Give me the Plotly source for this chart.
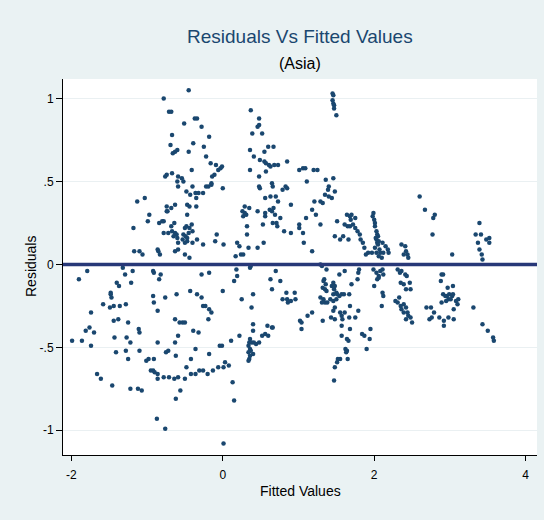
import plotly.graph_objects as go

# (fitted value, residual) pairs, grouped by region
upper_left = [(-0.78,1.00),(-0.71,0.92),(-0.68,0.92),(-0.67,0.78),(-0.69,0.72),(-0.66,0.67),(-0.63,0.68),(-0.60,0.69),
 (-0.76,0.53),(-0.74,0.54),(-0.67,0.55),(-0.59,0.53),(-0.60,0.50),(-0.59,0.47),(-1.13,0.38),(-1.03,0.40),(-0.74,0.35),
 (-0.68,0.34),(-0.63,0.36),(-0.74,0.32),(-0.73,0.32),(-0.97,0.30),(-0.99,0.26),(-1.18,0.22),(-0.84,0.25),(-0.80,0.26),
 (-0.78,0.26),(-0.68,0.23),(-0.64,0.25),(-0.78,0.19),(-0.72,0.19),(-0.67,0.20),(-0.63,0.19),(-0.61,0.18),(-0.65,0.17),
 (-0.59,0.13),(-0.60,0.16),(-1.17,0.08),(-1.10,0.08),(-1.06,0.06),(-0.86,0.09),(-0.85,0.08),(-0.83,0.06),(-0.63,0.08),(-0.59,0.09)]

upper_mid = [(-0.45,1.05),(0.37,0.93),(-0.51,0.85),(-0.37,0.88),(-0.34,0.88),(-0.28,0.83),(0.48,0.88),(0.46,0.83),(0.48,0.84),
 (0.39,0.79),(0.52,0.79),(-0.18,0.77),(-0.39,0.73),(-0.25,0.71),(-0.45,0.68),(0.36,0.69),(0.55,0.68),(0.60,0.71),(0.67,0.71),
 (-0.22,0.65),(0.41,0.65),(0.49,0.63),(-0.16,0.61),(-0.09,0.60),(-0.06,0.57),(-0.03,0.58),(-0.01,0.59),(-0.11,0.54),(-0.14,0.53),
 (0.55,0.62),(0.57,0.61),(0.61,0.60),(0.63,0.59),(0.68,0.60),(0.73,0.60),(0.85,0.62),(-0.41,0.57),(0.36,0.57),(0.57,0.56),
 (0.48,0.53),(-0.54,0.52),(-0.52,0.50),(-0.48,0.44),(-0.40,0.47),(-0.43,0.42),(-0.36,0.43),(-0.35,0.40),(-0.32,0.43),
 (-0.26,0.43),(-0.22,0.47),(-0.19,0.47),(-0.15,0.48),(-0.15,0.49),(0.00,0.46),(0.48,0.47),(0.49,0.46),(0.65,0.49),(0.66,0.47),
 (0.79,0.45),(0.83,0.47),(0.85,0.46),(1.01,0.57),(0.56,0.40),(0.63,0.41),(0.70,0.41),(0.73,0.38),(0.90,0.36),(-0.47,0.36),
 (-0.44,0.35),(-0.35,0.35),(-0.47,0.30),(0.29,0.35),(0.35,0.34),(0.26,0.32),(0.29,0.31),(0.27,0.29),(0.31,0.30),(0.46,0.32),
 (0.56,0.31),(0.62,0.33),(0.65,0.32),(0.67,0.34),(0.69,0.30),(0.76,0.28),(0.56,0.29),(0.53,0.24),(0.66,0.25),(0.71,0.25),
 (0.72,0.23),(0.81,0.20),(0.90,0.19),(1.01,0.24),(1.01,0.22),(-0.48,0.23),(-0.50,0.22),(-0.44,0.22),(-0.41,0.24),(-0.40,0.20),
 (-0.45,0.19),(-0.52,0.18),(-0.49,0.17),(-0.47,0.16),(-0.53,0.15),(-0.47,0.14),(-0.50,0.13),(-0.40,0.13),(-0.34,0.15),
 (-0.26,0.12),(-0.08,0.18),(-0.10,0.14),(0.01,0.12),(0.32,0.23),(0.32,0.18),(0.19,0.13),(0.22,0.11),(0.34,0.10),(0.46,0.10),
 (0.54,0.13),(0.17,0.05),(0.24,0.06),(0.27,0.06),(-0.50,0.06),(-0.44,0.04)]

upper_right = [(1.45,1.03),(1.46,1.02),(1.45,0.99),(1.46,0.97),(1.47,0.96),(1.47,0.94),(1.50,0.90),(1.06,0.58),(1.09,0.58),
 (1.20,0.57),(1.25,0.57),(1.11,0.50),(1.36,0.51),(1.46,0.52),(1.40,0.47),(1.39,0.45),(1.48,0.44),(1.35,0.42),(1.40,0.41),
 (1.44,0.40),(2.60,0.41),(1.21,0.38),(1.29,0.38),(1.32,0.37),(1.18,0.33),(1.23,0.30),(1.10,0.28),(1.29,0.24),(1.06,0.19),
 (1.07,0.13),(1.18,0.08),(1.51,0.26),(1.48,0.17),(1.55,0.15),(1.59,0.17),(1.66,0.15),(1.64,0.30),(1.68,0.29),(1.70,0.30),
 (1.75,0.28),(1.69,0.27),(1.61,0.24),(1.65,0.23),(1.68,0.23),(1.72,0.24),(1.75,0.22),(1.78,0.20),(1.81,0.18),(1.82,0.15),
 (1.85,0.13),(1.87,0.10),(1.92,0.07),(1.89,0.06),(1.99,0.31),(1.98,0.29),(2.00,0.27),(2.01,0.25),(2.01,0.23),(2.03,0.20),
 (2.04,0.18),(2.05,0.17),(2.03,0.15),(2.06,0.14),(2.04,0.13),(2.07,0.09),(2.08,0.07),(2.03,0.07),(1.97,0.07),(2.02,0.16),
 (2.05,0.12),(2.01,0.10),(2.06,0.05),(2.10,0.04),(2.11,0.13),(2.15,0.11),(2.18,0.09),(2.19,0.07),(2.12,0.07),(2.36,0.12),
 (2.41,0.11),(2.42,0.08),(2.39,0.06),(2.44,0.06),(2.45,0.04),(2.67,0.33),(2.80,0.30),(2.78,0.28),(2.77,0.18),(3.03,0.06),
 (3.39,0.25),(3.34,0.18),(3.41,0.18),(3.37,0.13),(3.39,0.09),(3.42,0.06),(3.43,0.03),(3.48,0.15),(3.52,0.16),(3.52,0.13)]

lower_left = [(-1.79,-0.04),(-1.90,-0.09),(-1.32,-0.02),(-1.29,-0.06),(-1.19,-0.04),(-0.92,-0.04),(-0.91,-0.05),(-0.82,-0.06),
 (-0.84,-0.09),(-1.40,-0.11),(-1.37,-0.13),(-1.21,-0.11),(-1.48,-0.17),(-1.48,-0.18),(-1.47,-0.20),(-1.58,-0.24),(-1.49,-0.26),
 (-1.44,-0.25),(-1.36,-0.25),(-1.28,-0.24),(-0.92,-0.19),(-0.91,-0.23),(-0.76,-0.20),(-0.86,-0.28),(-0.61,-0.18),(-1.74,-0.29),
 (-1.44,-0.34),(-1.38,-0.33),(-1.25,-0.35),(-0.63,-0.33),(-0.57,-0.35),(-1.81,-0.40),(-1.76,-0.38),(-1.70,-0.41),(-1.11,-0.39),
 (-1.10,-0.41),(-1.43,-0.44),(-1.27,-0.44),(-1.22,-0.47),(-0.59,-0.43),(-1.99,-0.46),(-1.86,-0.46),(-1.74,-0.49),(-0.86,-0.47),
 (-0.63,-0.47),(-1.41,-0.53),(-1.28,-0.52),(-1.25,-0.57),(-1.10,-0.52),(-0.75,-0.53),(-0.72,-0.52),(-0.62,-0.55),(-1.01,-0.58),
 (-0.98,-0.57),(-0.91,-0.57),(-0.95,-0.64),(-0.92,-0.64),(-0.90,-0.65),(-0.86,-0.66),(-0.86,-0.69),(-0.78,-0.68),(-0.71,-0.68),
 (-0.64,-0.69),(-0.59,-0.68),(-1.66,-0.66),(-1.61,-0.69),(-1.46,-0.73),(-1.22,-0.75),(-1.12,-0.75),(-1.07,-0.76),(-0.62,-0.81),
 (-0.87,-0.93),(-0.76,-0.99)]

lower_mid = [(0.36,-0.02),(0.37,-0.01),(-0.28,-0.06),(-0.18,-0.05),(0.18,-0.03),(0.19,-0.07),(0.15,-0.10),(0.70,-0.04),
 (0.63,-0.09),(0.76,-0.10),(0.65,-0.15),(-0.43,-0.16),(-0.34,-0.18),(-0.28,-0.20),(0.00,-0.16),(0.40,-0.18),(0.25,-0.21),
 (0.38,-0.26),(0.84,-0.17),(0.95,-0.17),(0.79,-0.21),(0.85,-0.21),(0.86,-0.23),(0.90,-0.22),(0.96,-0.21),(-0.26,-0.25),
 (-0.23,-0.25),(-0.18,-0.27),(-0.15,-0.29),(-0.19,-0.33),(-0.53,-0.35),(-0.50,-0.35),(-0.39,-0.40),(-0.32,-0.41),
 (-0.36,-0.51),(0.22,-0.43),(0.11,-0.46),(-0.04,-0.49),(-0.01,-0.49),(-0.18,-0.54),(-0.42,-0.57),(-0.48,-0.62),(-0.42,-0.66),
 (-0.36,-0.66),(-0.31,-0.64),(-0.26,-0.64),(-0.20,-0.66),(-0.13,-0.64),(-0.06,-0.62),(0.01,-0.62),(0.03,-0.59),(0.08,-0.61),
 (-0.50,-0.69),(-0.56,-0.76),(0.13,-0.71),(0.15,-0.82),(0.01,-1.08),(0.40,-0.36),(0.40,-0.40),(0.36,-0.45),(0.35,-0.47),
 (0.38,-0.47),(0.41,-0.47),(0.44,-0.48),(0.48,-0.47),(0.34,-0.49),(0.36,-0.51),(0.37,-0.52),(0.34,-0.53),(0.40,-0.54),
 (0.36,-0.55),(0.35,-0.57),(0.34,-0.58),(0.52,-0.43),(0.56,-0.42),(0.59,-0.37),(0.60,-0.43),(0.65,-0.38),(0.66,-0.38)]

lower_right = [(1.29,0.00),(1.31,-0.01),(1.37,-0.03),(1.54,-0.06),(1.61,-0.04),(1.80,-0.03),(1.79,-0.05),(1.78,-0.09),
 (1.70,-0.12),(1.99,-0.03),(2.03,-0.05),(2.06,-0.07),(2.08,-0.04),(2.11,-0.03),(2.12,-0.06),(2.04,-0.09),(2.06,-0.08),
 (2.00,-0.13),(2.11,-0.17),(2.12,-0.19),(2.10,-0.25),(2.31,-0.03),(2.34,-0.05),(2.36,-0.04),(2.41,-0.06),(2.43,-0.07),
 (2.35,-0.11),(2.39,-0.12),(2.47,-0.11),(2.48,-0.15),(2.42,-0.15),(2.33,-0.20),(2.28,-0.22),(2.31,-0.23),(2.35,-0.25),
 (2.39,-0.24),(2.42,-0.26),(2.36,-0.27),(2.39,-0.29),(2.44,-0.29),(2.42,-0.33),(2.45,-0.31),(2.48,-0.32),(2.50,-0.35),
 (1.34,-0.09),(1.33,-0.10),(1.36,-0.12),(1.32,-0.14),(1.35,-0.15),(1.37,-0.16),(1.46,-0.11),(1.44,-0.13),(1.48,-0.13),
 (1.47,-0.15),(1.50,-0.17),(1.46,-0.18),(1.51,-0.18),(1.29,-0.20),(1.33,-0.21),(1.35,-0.23),(1.31,-0.23),(1.38,-0.23),
 (1.42,-0.21),(1.46,-0.22),(1.50,-0.21),(1.54,-0.19),(1.57,-0.18),(1.60,-0.18),(1.67,-0.18),(1.02,-0.34),(1.04,-0.35),
 (1.04,-0.39),(1.12,-0.31),(1.18,-0.29),(1.32,-0.34),(1.48,-0.26),(1.46,-0.28),(1.43,-0.32),(1.48,-0.33),(1.55,-0.29),
 (1.57,-0.31),(1.58,-0.33),(1.61,-0.29),(1.68,-0.25),(1.67,-0.32),(1.75,-0.32),(1.79,-0.28),(1.57,-0.37),(1.68,-0.39),
 (1.57,-0.43),(1.64,-0.45),(1.66,-0.46),(1.84,-0.42),(1.87,-0.43),(1.95,-0.39),(1.94,-0.45),(1.90,-0.51),(1.62,-0.51),
 (1.64,-0.52),(1.63,-0.53),(1.65,-0.57),(1.55,-0.57),(1.52,-0.57),(1.51,-0.59),(1.48,-0.62),(1.47,-0.70),
 (2.89,-0.06),(2.91,-0.06),(2.88,-0.10),(3.04,-0.13),(2.97,-0.14),(2.91,-0.18),(2.94,-0.19),(2.96,-0.19),(2.99,-0.18),
 (3.03,-0.19),(3.04,-0.18),(2.98,-0.21),(2.95,-0.22),(2.89,-0.23),(3.01,-0.21),(3.08,-0.22),(3.11,-0.21),(3.10,-0.24),
 (3.05,-0.27),(2.69,-0.26),(2.75,-0.26),(2.79,-0.29),(2.76,-0.32),(2.73,-0.33),(2.86,-0.32),(2.92,-0.34),(2.92,-0.37),
 (2.98,-0.32),(3.05,-0.33),(3.31,-0.26),(3.43,-0.36),(3.50,-0.40),(3.57,-0.44),(3.58,-0.46)]

x_ticks = [-2, 0, 2, 4]
x_labels = ["-2", "0", "2", "4"]
y_ticks = [-1, -0.5, 0, 0.5, 1]
y_labels = ["-1", "-.5", "0", ".5", "1"]

points = upper_left + upper_mid + upper_right + lower_left + lower_mid + lower_right
fitted = [p[0] for p in points]
residuals = [p[1] for p in points]

NAVY = "#1A476F"
FONT = "Liberation Sans, Arial, sans-serif"

fig = go.Figure()
fig.add_trace(go.Scatter(x=fitted, y=residuals, mode="markers",
                         marker=dict(color=NAVY, size=4.5, line=dict(width=0)),
                         showlegend=False, hoverinfo="x+y"))

fig.add_shape(type="line", xref="paper", yref="y", x0=0, x1=1, y0=0, y1=0,
              line=dict(color="#283878", width=3.5))

fig.update_layout(
    width=544, height=520,
    margin=dict(l=63, r=7, t=79, b=65),
    paper_bgcolor="#EAF2F3",
    plot_bgcolor="white",
    font=dict(family=FONT, color="black", size=12),
    xaxis=dict(range=[-2.11, 4.15], tickvals=x_ticks, ticktext=x_labels,
               showgrid=False, zeroline=False, showline=True, linecolor="black",
               linewidth=1, ticks="outside", ticklen=5, tickcolor="black",
               ticklabelstandoff=4, tickfont=dict(size=12)),
    yaxis=dict(range=[-1.149, 1.118], tickvals=y_ticks, ticktext=y_labels,
               showgrid=True, gridcolor="#EAF0F2", gridwidth=1, zeroline=False,
               showline=True, linecolor="black", linewidth=1, ticks="outside",
               ticklen=6, tickcolor="black", tickfont=dict(size=12)),
    annotations=[
        dict(text="Residuals Vs Fitted Values", xref="paper", yref="paper", x=0.5, y=(455-36)/376,
             xanchor="center", yanchor="middle", showarrow=False,
             font=dict(size=19, color=NAVY, family=FONT)),
        dict(text="(Asia)", xref="paper", yref="paper", x=0.5, y=(455-64)/376,
             xanchor="center", yanchor="middle", showarrow=False,
             font=dict(size=16, color="black", family=FONT)),
        dict(text="Fitted Values", xref="paper", yref="paper", x=0.5, y=(455-491)/376,
             xanchor="center", yanchor="middle", showarrow=False,
             font=dict(size=14, color="black", family=FONT)),
        dict(text="Residuals", xref="paper", yref="paper", x=(31-63)/474, y=0.5,
             xanchor="center", yanchor="middle", showarrow=False, textangle=-90,
             font=dict(size=14, color="black", family=FONT)),
    ],
)

fig.write_html("out.html")
